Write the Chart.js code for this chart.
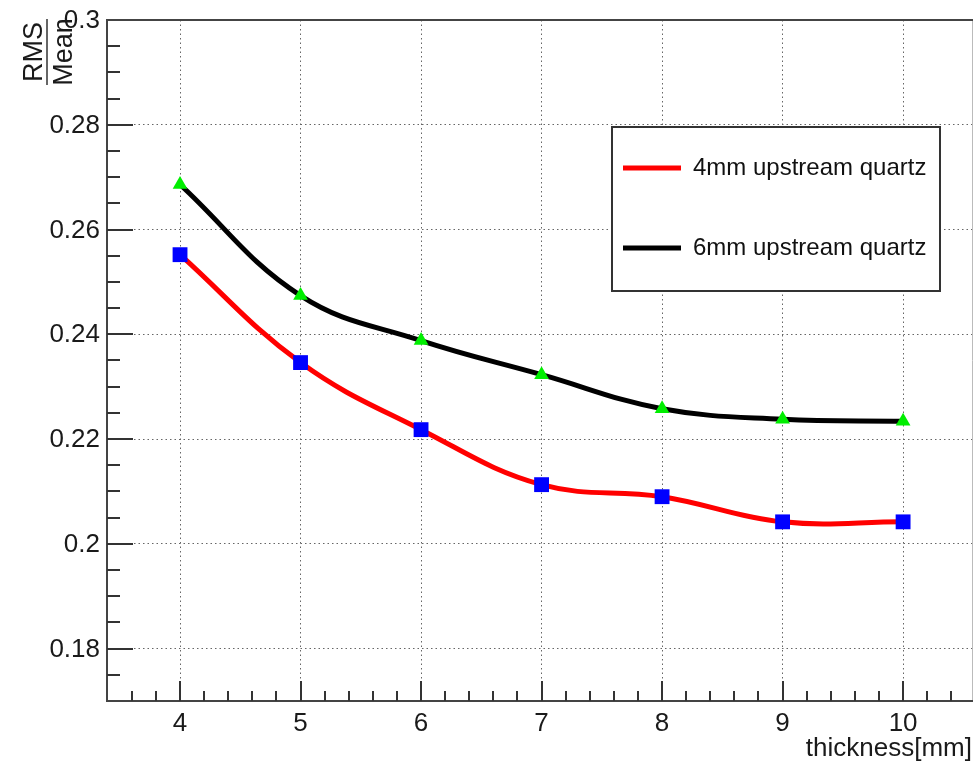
<!DOCTYPE html>
<html>
<head>
<meta charset="utf-8">
<script src="https://cdn.jsdelivr.net/npm/chart.js@4.4.1/dist/chart.umd.min.js"></script>
<style>
  html, body { margin: 0; padding: 0; background: #fff; }
  canvas { display: block; }
</style>
</head>
<body>
<canvas id="c" width="974" height="765"></canvas>
<script>
// RMS/Mean vs thickness, two upstream quartz setups

const thickness = [4, 5, 6, 7, 8, 9, 10];
const rms4mm = [0.2552, 0.2346, 0.2218, 0.2113, 0.2090, 0.2042, 0.2042];
const rms6mm = [0.2686, 0.2474, 0.2388, 0.2323, 0.2258, 0.2238, 0.2234];

const xMajorTicks = [4, 5, 6, 7, 8, 9, 10];
const xTickLabels = ['4', '5', '6', '7', '8', '9', '10'];
const yMajorTicks = [0.18, 0.2, 0.22, 0.24, 0.26, 0.28, 0.3];
const yTickLabels = ['0.18', '0.2', '0.22', '0.24', '0.26', '0.28', '0.3'];

const FONT = '"Liberation Sans", Arial, Helvetica, sans-serif';
const X_MIN = 3.394, X_MAX = 10.58;
const Y_MIN = 0.17, Y_MAX = 0.3;

function pts(ys) {
  return thickness.map((x, i) => ({ x, y: ys[i] }));
}

// frame, inner ticks, tick labels and axis titles, ROOT style
const axesPlugin = {
  id: 'rootAxes',
  afterDraw(chart) {
    const { ctx, chartArea: a, scales } = chart;
    const xs = scales.x, ys = scales.y;
    ctx.save();

    // frame
    ctx.strokeStyle = '#bbb';
    ctx.lineWidth = 1;
    ctx.beginPath();
    ctx.moveTo(a.right - 0.5, a.top);
    ctx.lineTo(a.right - 0.5, a.bottom);
    ctx.stroke();
    ctx.strokeStyle = '#444';
    ctx.lineWidth = 2;
    ctx.beginPath();
    ctx.moveTo(a.right, a.top);
    ctx.lineTo(a.left, a.top);
    ctx.lineTo(a.left, a.bottom);
    ctx.lineTo(a.right, a.bottom);
    ctx.stroke();

    // x ticks
    ctx.strokeStyle = '#333';
    ctx.lineWidth = 2;
    ctx.beginPath();
    for (let v = 3.6; v < X_MAX; v += 0.2) {
      const px = Math.round(xs.getPixelForValue(v));
      const major = Math.abs(v - Math.round(v)) < 1e-6;
      ctx.moveTo(px, a.bottom);
      ctx.lineTo(px, a.bottom - (major ? 20 : 10));
    }
    // y ticks
    for (let v = Y_MIN + 0.005; v < Y_MAX - 1e-6; v += 0.005) {
      const py = Math.round(ys.getPixelForValue(v));
      const major = Math.abs(v * 50 - Math.round(v * 50)) < 1e-6;
      ctx.moveTo(a.left, py);
      ctx.lineTo(a.left + (major ? 26 : 13), py);
    }
    ctx.stroke();

    // tick labels
    ctx.fillStyle = '#1a1a1a';
    ctx.font = '26px ' + FONT;
    ctx.textAlign = 'right';
    ctx.textBaseline = 'middle';
    yMajorTicks.forEach((v, i) => {
      ctx.fillText(yTickLabels[i], a.left - 7, ys.getPixelForValue(v) + 1);
    });
    ctx.textAlign = 'center';
    ctx.textBaseline = 'alphabetic';
    xMajorTicks.forEach((v, i) => {
      ctx.fillText(xTickLabels[i], xs.getPixelForValue(v), 731);
    });

    // x title
    ctx.textAlign = 'right';
    ctx.fillText('thickness[mm]', 972, 756);

    // y title: RMS over Mean, rotated
    ctx.save();
    ctx.translate(42, 52);
    ctx.rotate(-Math.PI / 2);
    ctx.textAlign = 'center';
    ctx.font = '27px ' + FONT;
    ctx.fillText('RMS', 0, 0);
    ctx.fillText('Mean', 0, 30);
    ctx.restore();
    ctx.strokeStyle = '#333';
    ctx.lineWidth = 1.5;
    ctx.beginPath();
    ctx.moveTo(47, 19);
    ctx.lineTo(47, 85);
    ctx.stroke();

    ctx.restore();
  }
};

// legend box inside the plot
const legendPlugin = {
  id: 'rootLegend',
  afterDraw(chart) {
    const { ctx } = chart;
    const box = { x: 612, y: 127, w: 328, h: 164 };
    ctx.save();
    ctx.fillStyle = '#fff';
    ctx.fillRect(box.x, box.y, box.w, box.h);
    ctx.strokeStyle = '#333';
    ctx.lineWidth = 2;
    ctx.strokeRect(box.x, box.y, box.w, box.h);
    const rows = [168, 248];
    chart.data.datasets.forEach((ds, i) => {
      const y = rows[i];
      ctx.strokeStyle = ds.borderColor;
      ctx.lineWidth = 5;
      ctx.beginPath();
      ctx.moveTo(623, y);
      ctx.lineTo(681, y);
      ctx.stroke();
      ctx.fillStyle = '#111';
      ctx.font = '24px ' + FONT;
      ctx.textAlign = 'left';
      ctx.textBaseline = 'middle';
      ctx.fillText(ds.label, 693, y);
    });
    ctx.restore();
  }
};

new Chart(document.getElementById('c'), {
  type: 'line',
  data: {
    datasets: [
      {
        label: '4mm upstream quartz',
        data: pts(rms4mm),
        borderColor: '#ff0000',
        borderWidth: 5,
        tension: 0.4,
        pointStyle: 'rect',
        pointRadius: 10.5,
        pointBackgroundColor: '#0000ff',
        pointBorderColor: '#0000ff',
        pointBorderWidth: 0
      },
      {
        label: '6mm upstream quartz',
        data: pts(rms6mm),
        borderColor: '#000000',
        borderWidth: 5,
        tension: 0.4,
        pointStyle: 'triangle',
        pointRadius: 8.5,
        pointBackgroundColor: '#00ee00',
        pointBorderColor: '#00ee00',
        pointBorderWidth: 0
      }
    ]
  },
  options: {
    responsive: false,
    animation: false,
    layout: { autoPadding: false, padding: { left: 107, top: 20, right: 1, bottom: 64 } },
    plugins: { legend: { display: false }, tooltip: { enabled: false } },
    scales: {
      x: {
        type: 'linear',
        min: X_MIN,
        max: X_MAX,
        afterBuildTicks: s => { s.ticks = xMajorTicks.map(v => ({ value: v })); },
        ticks: { display: false },
        grid: { color: '#666', lineWidth: 1, drawTicks: false },
        border: { display: false, dash: [1.5, 3] }
      },
      y: {
        type: 'linear',
        min: Y_MIN,
        max: Y_MAX,
        afterBuildTicks: s => { s.ticks = yMajorTicks.slice(0, -1).map(v => ({ value: v })); },
        ticks: { display: false },
        grid: { color: '#666', lineWidth: 1, drawTicks: false },
        border: { display: false, dash: [1.5, 3] }
      }
    }
  },
  plugins: [axesPlugin, legendPlugin]
});
</script>
</body>
</html>
